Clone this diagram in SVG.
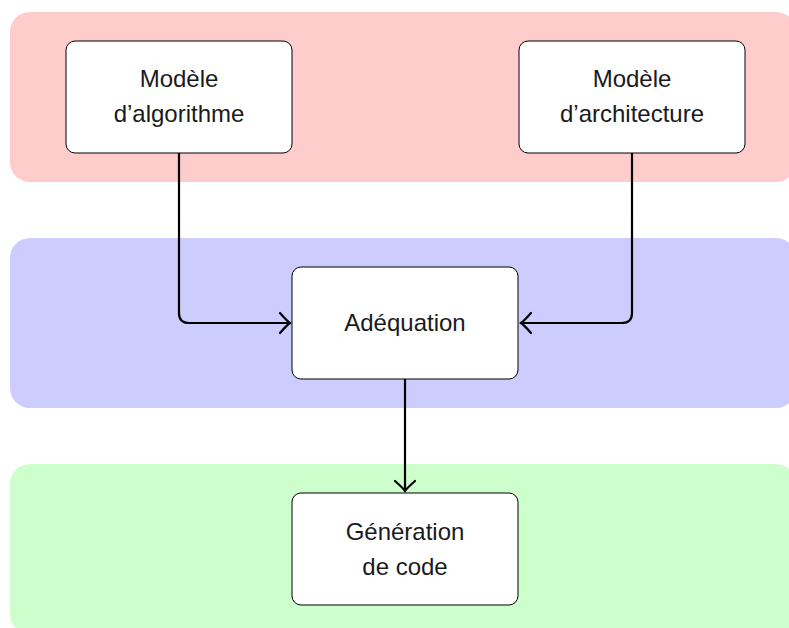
<svg xmlns="http://www.w3.org/2000/svg" width="789" height="628" viewBox="0 0 789 628">
<defs>
<style>
.band{stroke:none}
.node rect{fill:#fff;stroke:#000;stroke-width:1}
.node text{font-family:"Liberation Sans",Arial,sans-serif;font-size:24px;fill:#1a1a1a;text-anchor:middle}
.conn path{fill:none;stroke:#000;stroke-width:2.2;stroke-linejoin:round;stroke-linecap:round}
</style>
<marker id="arr" viewBox="-12 -12 14 24" markerWidth="14" markerHeight="24" refX="0" refY="0" markerUnits="userSpaceOnUse" orient="auto">
<path d="M-10,-10 Q-3,-2 0,0 Q-3,2 -10,10" fill="none" stroke="#000" stroke-width="2.2" stroke-linecap="round"/>
</marker>
</defs>
<rect width="789" height="628" fill="#fff"/>
<g id="bands">
<rect class="band" x="10" y="12" width="786" height="170" rx="20" fill="#ffcccc"/>
<rect class="band" x="10" y="238" width="786" height="170" rx="20" fill="#ccccff"/>
<rect class="band" x="10" y="464" width="786" height="170" rx="20" fill="#ccffcc"/>
</g>
<g id="connectors" class="conn">
<path d="M179,153 V313 Q179,323 189,323 H290" marker-end="url(#arr)"/>
<path d="M632,153 V313 Q632,323 622,323 H521" marker-end="url(#arr)"/>
<path d="M405,379 V491" marker-end="url(#arr)"/>
</g>
<g id="n-algo" class="node">
<rect x="66" y="41" width="226" height="112" rx="9"/>
<text x="179" y="87">Modèle</text>
<text x="179" y="122">d’algorithme</text>
</g>
<g id="n-archi" class="node">
<rect x="519" y="41" width="226" height="112" rx="9"/>
<text x="632" y="87">Modèle</text>
<text x="632" y="122">d’architecture</text>
</g>
<g id="n-adeq" class="node">
<rect x="292" y="267" width="226" height="112" rx="9"/>
<text x="405" y="331">Adéquation</text>
</g>
<g id="n-gen" class="node">
<rect x="292" y="493" width="226" height="112" rx="9"/>
<text x="405" y="540">Génération</text>
<text x="405" y="575">de code</text>
</g>
</svg>
